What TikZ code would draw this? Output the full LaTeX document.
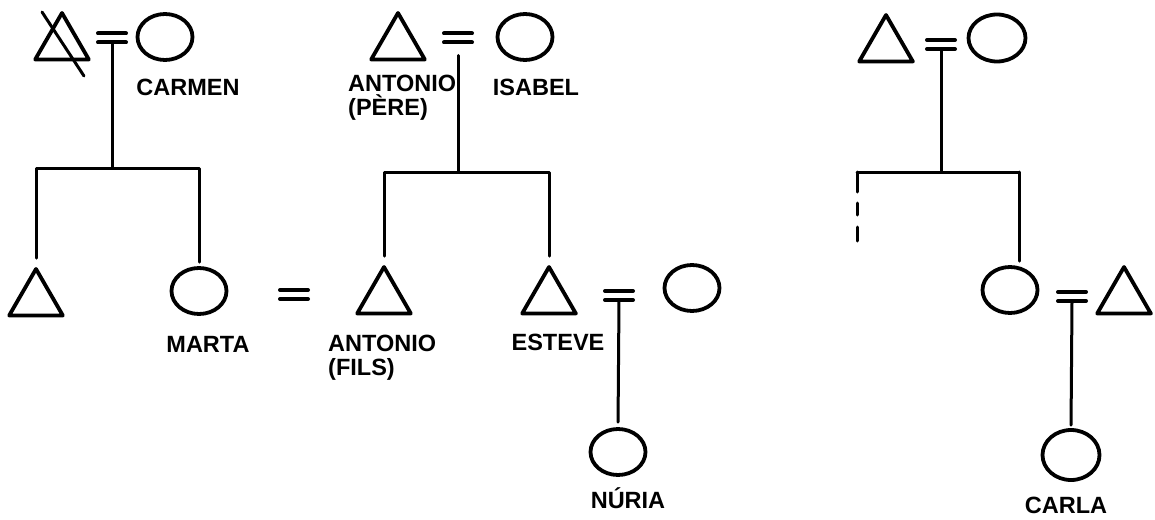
\documentclass[tikz,border=0pt]{standalone}
\usepackage{fontspec}
\setmainfont{Liberation Sans}
\usetikzlibrary{shapes.geometric,calc}
\begin{document}
\begin{tikzpicture}[x=1pt,y=-1pt,
  line cap=round, line join=round,
  male/.style={draw, regular polygon, regular polygon sides=3, minimum size=62pt, inner sep=0pt, line width=3.8pt},
  female/.style={draw, ellipse, minimum width=55pt, minimum height=46pt, inner sep=0pt, line width=3.8pt},
  lbl/.style={font=\fontsize{23.5}{23.5}\selectfont\bfseries, inner sep=0pt, align=left},
  link/.style={line width=3pt},
  marrline/.style={line width=4pt},
  marr/.pic={\draw[marrline] (-14,-4.5) -- (14,-4.5) (-14,4.5) -- (14,4.5); \coordinate (-low) at (0,4.5);}
]
\useasboundingbox (0,0) rectangle (1155,519);

% ---------- group 1 ----------
\node[male] (gf1) at (62,44) {};
\draw[link] ($(gf1.center)+(-20,-32)$) -- ($(gf1.center)+(22,32)$);
\pic (m1) at (112,38) {marr};
\node[female] (carmen) at (165,37) {};
\node[lbl, anchor=base] (lcarmen) at (188,95) {CARMEN};
\coordinate (b1) at (112,168);
\node[male] (u1) at (36,300) {};
\node[female] (marta) at (199,291) {};
\node[lbl, anchor=base] (lmarta) at (208,352) {MARTA};
\draw[link] (m1-low) -- (b1);
\draw[link, shorten >=7pt] (b1) -| (u1.north);
\draw[link, shorten >=4pt] (b1) -| (marta.north);
\pic (m2) at (294,294.5) {marr};

% ---------- group 2 ----------
\node[male] (antp) at (398,44) {};
\pic (m3) at (458,38) {marr};
\node[female] (isabel) at (525,37) {};
\node[lbl, anchor=north west] (lantp) at (348,75) {ANTONIO\\(PÈRE)};
\node[lbl, anchor=base] (lisabel) at (536,95) {ISABEL};
\coordinate (b2) at (458,172);
\draw[link, shorten <=13pt] (m3-low) -- (b2);
\node[male] (antf) at (384,298) {};
\node[lbl, anchor=north west] (lantf) at (328,335) {ANTONIO\\(FILS)};
\node[male] (esteve) at (549,298) {};
\node[lbl, anchor=base] (lesteve) at (558,350) {ESTEVE};
\draw[link, shorten >=7pt] (b2) -| (antf.north);
\draw[link, shorten >=7pt] (b2) -| (esteve.north);
\pic (m4) at (619,295.5) {marr};
\node[female] (estw) at (692,288) {};
\node[female] (nuria) at (618,452) {};
\node[lbl, anchor=base] (lnuria) at (628,508) {NÚRIA};
\draw[link, shorten >=5pt] (m4-low) -- (nuria.north);

% ---------- group 3 ----------
\node[male] (gf3) at (886,46) {};
\pic (m5) at (941,44.5) {marr};
\node[female, minimum width=57pt, minimum height=47pt] (gm3) at (997,38) {};
\coordinate (b3) at (941,172);
\coordinate (b3l) at (857,172);
\coordinate (b3r) at (1019,172);
\coordinate (d3) at (857,245);
\draw[link] (m5-low) -- (b3);
\draw[link] (b3l) -- (b3r);
\draw[link, dash pattern=on 20pt off 11pt on 12pt off 12pt on 14pt off 100pt] (b3l) -- (d3);
\node[female] (mom3) at (1010,290) {};
\draw[link, shorten >=4pt] (b3r) -- (b3r |- mom3.north);
\pic (m6) at (1072,296.5) {marr};
\node[male] (dad3) at (1124,298) {};
\node[female, minimum width=57pt, minimum height=50pt] (carla) at (1071,455) {};
\node[lbl, anchor=base] (lcarla) at (1066,513) {CARLA};
\draw[link, shorten >=3pt] (m6-low) -- (carla.north);
\end{tikzpicture}
\end{document}
